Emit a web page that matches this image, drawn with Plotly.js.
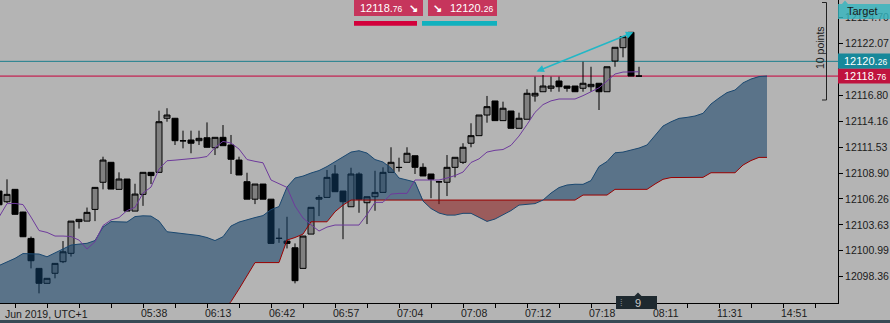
<!DOCTYPE html>
<html><head><meta charset="utf-8">
<script src="https://cdn.plot.ly/plotly-3.0.1.min.js"></script>
<style>html,body{margin:0;padding:0;background:#b4b4b4;overflow:hidden}#chart{width:890px;height:323px}</style>
</head><body><div id="chart"></div>
<script>
// ---- candles (bar index -1 .. 79) ----
const openP = [12107.07,12105.98,12107.24,12104.93,12102.25,12099.20,12097.68,12098.70,12099.88,12100.73,12103.96,12104.01,12105.20,12107.96,12109.99,12107.24,12108.29,12105.03,12106.73,12108.97,12108.97,12114.47,12114.47,12112.19,12112.26,12112.19,12112.49,12111.47,12112.53,12111.75,12110.22,12108.02,12106.24,12107.78,12106.24,12102.27,12101.98,12101.30,12099.20,12102.69,12106.24,12106.42,12108.80,12107.07,12105.47,12108.80,12105.88,12106.49,12106.93,12108.97,12109.48,12109.99,12110.66,12109.48,12108.80,12108.02,12107.96,12109.48,12109.99,12111.93,12112.70,12114.80,12116.23,12114.23,12115.21,12113.45,12114.37,12116.74,12117.17,12117.52,12118.26,12117.75,12117.75,12117.52,12117.68,12118.03,12117.17,12120.29,12121.65,12123.21,12118.76];
const highP = [12107.20,12108.26,12107.27,12104.96,12102.44,12099.23,12098.22,12099.74,12101.98,12104.01,12104.22,12105.39,12107.47,12110.56,12110.02,12108.97,12108.29,12107.81,12109.00,12109.00,12115.24,12115.49,12114.50,12113.21,12113.21,12113.21,12114.05,12112.53,12113.78,12112.77,12110.56,12108.93,12107.78,12107.78,12106.25,12103.27,12104.45,12101.74,12102.49,12105.41,12106.66,12109.21,12109.71,12107.07,12109.44,12108.97,12106.49,12109.13,12109.48,12111.52,12110.46,12111.52,12110.66,12109.89,12108.80,12108.04,12110.73,12110.50,12111.93,12113.96,12114.80,12116.74,12116.23,12116.16,12115.21,12115.04,12117.42,12118.70,12118.87,12118.70,12118.70,12117.75,12117.75,12120.22,12119.71,12118.03,12119.71,12121.69,12122.77,12123.21,12119.71];
const lowP = [12105.67,12105.85,12104.68,12102.39,12099.20,12096.66,12097.66,12098.19,12099.74,12100.40,12103.25,12104.00,12104.01,12107.24,12107.27,12107.24,12105.03,12105.03,12105.56,12107.78,12108.95,12114.12,12111.75,12111.41,12110.91,12111.75,12111.50,12110.73,12111.68,12108.80,12108.70,12106.24,12105.74,12106.24,12101.74,12101.80,12101.23,12097.68,12099.20,12102.69,12104.52,12106.42,12107.00,12102.17,12105.47,12104.86,12103.71,12105.06,12106.93,12108.97,12109.04,12109.99,12108.80,12108.60,12106.34,12105.74,12106.56,12108.46,12109.82,12111.52,12112.70,12114.02,12114.23,12114.23,12113.45,12113.45,12114.37,12116.16,12117.17,12117.17,12117.17,12117.17,12117.17,12117.17,12117.17,12115.31,12117.17,12119.71,12120.67,12118.76,12118.76];
const closeP = [12105.67,12106.73,12104.70,12102.42,12099.98,12097.68,12098.19,12099.71,12100.89,12104.01,12104.19,12104.90,12107.44,12110.22,12107.27,12108.29,12105.03,12106.76,12108.97,12108.64,12114.12,12114.80,12112.19,12112.17,12111.93,12112.43,12111.52,12112.53,12111.68,12110.30,12108.70,12106.24,12107.78,12106.24,12101.74,12102.25,12101.74,12097.95,12102.49,12105.41,12106.42,12108.46,12107.00,12105.98,12108.80,12106.24,12106.49,12106.93,12108.97,12109.99,12109.46,12110.91,12109.48,12108.60,12108.26,12108.00,12109.48,12110.50,12111.52,12112.70,12114.80,12115.65,12114.23,12115.49,12113.45,12114.47,12117.01,12117.01,12117.75,12117.75,12117.68,12117.52,12117.17,12118.03,12117.92,12117.17,12119.71,12121.69,12122.77,12118.76,12118.76];
// ---- Ichimoku: Kijun (bar -1 .. 79), Senkou A/B (bar -1 .. 95) ----
const kijun = [12104.42,12105.79,12105.81,12105.69,12104.42,12103.05,12102.86,12102.49,12102.49,12102.44,12102.08,12101.17,12101.91,12103.56,12104.12,12104.37,12105.08,12105.41,12106.86,12107.47,12109.30,12110.15,12110.21,12110.28,12110.35,12110.44,12110.58,12111.49,12112.12,12111.95,12111.34,12110.27,12110.09,12109.94,12108.19,12107.78,12107.44,12105.54,12104.32,12103.64,12103.00,12103.40,12103.61,12103.61,12103.61,12103.61,12104.68,12105.92,12105.92,12106.76,12106.83,12106.83,12108.19,12108.19,12108.19,12108.19,12108.39,12108.64,12109.00,12109.97,12110.34,12111.03,12111.21,12111.29,12111.72,12112.66,12113.83,12115.07,12115.86,12116.24,12116.43,12116.43,12116.43,12116.77,12117.14,12117.57,12118.26,12118.97,12119.17,12119.20,12119.20];
const spanA = [12099.49,12099.84,12100.22,12100.71,12100.66,12100.66,12100.38,12100.79,12101.24,12101.57,12101.67,12101.75,12102.03,12103.40,12103.96,12103.91,12103.91,12104.47,12104.55,12104.52,12104.01,12102.93,12102.82,12102.74,12102.66,12102.54,12102.34,12102.03,12102.42,12103.51,12103.91,12104.17,12104.37,12104.57,12105.18,12105.49,12107.47,12108.39,12108.59,12108.90,12109.15,12109.56,12110.05,12110.47,12111.03,12111.17,12110.93,12110.27,12110.02,12109.41,12108.39,12108.19,12107.98,12106.05,12105.29,12104.83,12104.62,12104.62,12104.80,12104.80,12104.35,12103.98,12104.22,12104.62,12105.08,12105.64,12105.71,12105.79,12106.15,12106.86,12107.42,12107.68,12107.76,12107.75,12108.13,12109.56,12110.07,12110.96,12111.03,12111.21,12111.44,12111.75,12112.71,12113.68,12114.11,12114.46,12114.56,12114.70,12114.97,12115.92,12116.53,12117.08,12117.34,12118.07,12118.46,12118.71,12118.77];
const spanB = [12093.5,12093.5,12093.5,12093.5,12093.5,12093.5,12093.5,12093.5,12093.5,12093.5,12093.5,12093.5,12093.5,12093.5,12093.5,12093.5,12093.5,12093.5,12093.5,12093.5,12093.5,12093.5,12093.5,12093.5,12093.5,12093.5,12093.5,12094.00,12094.86,12095.82,12097.10,12098.42,12099.79,12099.79,12099.79,12099.79,12102.08,12102.34,12102.69,12103.94,12103.94,12103.94,12104.96,12105.64,12106.15,12106.15,12106.15,12106.15,12106.15,12106.15,12106.15,12106.15,12106.15,12106.15,12106.15,12106.15,12106.15,12106.15,12106.15,12106.15,12106.15,12106.15,12106.15,12106.15,12106.15,12106.15,12106.15,12106.15,12106.15,12106.15,12106.15,12106.15,12106.15,12106.66,12106.66,12106.66,12106.66,12107.24,12107.24,12107.24,12107.24,12107.24,12107.78,12108.26,12108.44,12108.46,12108.46,12108.46,12108.46,12108.93,12108.93,12108.93,12108.93,12109.71,12110.17,12110.49,12110.49];
// ---- axis labels ----
const yTicks = [12124.70,12122.07,12116.80,12114.16,12111.53,12108.90,12106.26,12103.63,12100.99,12098.36];
const timeLabels = ['','','05:38','06:13','06:42','06:57','07:04','07:08','07:12','07:18','08:11','11:31','14:51'];
const bidPrice = 12118.76, askPrice = 12120.26;

const FIRST = -1;
const xs = openP.map((_, i) => i + FIRST);
const xc = spanA.map((_, i) => i + FIRST);
const upper = spanA.map((a, i) => Math.max(a, spanB[i]));

const YMIN = 12095.68, YMAX = 12126.50;
const PW = 838, PH = 303;
const X = px => px / PW;            // pixel -> paper
const Y = py => (PH - py) / PH;
const YV = v => (v - YMIN) / (YMAX - YMIN);
const FONT = 'Liberation Sans, Arial, sans-serif';

const traces = [
  {type:'candlestick', x:xs, open:openP, high:highP, low:lowP, close:closeP,
   increasing:{line:{color:'#000', width:1}, fillcolor:'#808080'},
   decreasing:{line:{color:'#000', width:1}, fillcolor:'#000'},
   whiskerwidth:0, hoverinfo:'skip', showlegend:false},
  {type:'scatter', mode:'lines', x:xc, y:spanB, line:{width:0}, hoverinfo:'skip', showlegend:false},
  {type:'scatter', mode:'lines', x:xc, y:upper, line:{width:0}, fill:'tonexty', fillcolor:'rgba(16,62,102,0.55)', hoverinfo:'skip', showlegend:false},
  {type:'scatter', mode:'lines', x:xc, y:spanA, line:{width:0}, hoverinfo:'skip', showlegend:false},
  {type:'scatter', mode:'lines', x:xc, y:upper, line:{width:0}, fill:'tonexty', fillcolor:'rgba(134,20,20,0.55)', hoverinfo:'skip', showlegend:false},
  {type:'scatter', mode:'lines', x:xc, y:spanB, line:{color:'#9a0000', width:1}, hoverinfo:'skip', showlegend:false},
  {type:'scatter', mode:'lines', x:xc, y:spanA, line:{color:'#1a4870', width:1}, hoverinfo:'skip', showlegend:false},
  {type:'scatter', mode:'lines', x:xs, y:kijun, line:{color:'#6e3a9c', width:1}, hoverinfo:'skip', showlegend:false}
];

const tickVals = [], tickText = [];
timeLabels.forEach((t, j) => {
  tickVals.push(1.0 + 8*j); tickText.push(t);
  tickVals.push(5.0 + 8*j); tickText.push('');
});

const shapes = [
  {type:'line', xref:'paper', yref:'y', x0:0, x1:1, y0:askPrice, y1:askPrice, line:{color:'#1d7f8d', width:1}, layer:'below'},
  {type:'line', xref:'paper', yref:'y', x0:0, x1:1, y0:bidPrice, y1:bidPrice, line:{color:'#c8003c', width:1}, layer:'below'},
  // right price labels
  {type:'rect', xref:'paper', yref:'paper', x0:1, x1:X(890), y0:YV((askPrice+bidPrice)/2), y1:YV(askPrice+0.80), fillcolor:'#17889a', line:{width:0}},
  {type:'rect', xref:'paper', yref:'paper', x0:1, x1:X(890), y0:YV(bidPrice-0.75), y1:YV((askPrice+bidPrice)/2), fillcolor:'#c0133e', line:{width:0}},
  // target tag
  {type:'path', xref:'paper', yref:'paper', path:`M ${X(838)} ${Y(19)} L ${X(838)} ${Y(4)} L ${X(842)} ${Y(4)} L ${X(845)} ${Y(0.5)} L ${X(848)} ${Y(4)} L ${X(890)} ${Y(4)} L ${X(890)} ${Y(19)} Z`, fillcolor:'rgba(52,180,190,0.82)', line:{width:0}},
  // 10 points bracket
  {type:'path', xref:'paper', yref:'paper', path:`M ${X(822)} ${Y(2.5)} L ${X(826.5)} ${Y(2.5)} L ${X(826.5)} ${Y(100)} L ${X(822)} ${Y(100)}`, line:{color:'#222', width:1}},
  // top boxes
  {type:'rect', xref:'paper', yref:'paper', x0:X(354), x1:X(423), y0:Y(16), y1:Y(0), fillcolor:'#c6355c', line:{width:0}},
  {type:'rect', xref:'paper', yref:'paper', x0:X(428), x1:X(497), y0:Y(16), y1:Y(0), fillcolor:'#c6355c', line:{width:0}},
  {type:'rect', xref:'paper', yref:'paper', x0:X(354), x1:X(417), y0:Y(25.7), y1:Y(21), fillcolor:'#d3003b', line:{width:0}},
  {type:'rect', xref:'paper', yref:'paper', x0:X(422), x1:X(497), y0:Y(25.7), y1:Y(21), fillcolor:'#11b1be', line:{width:0}},
  // bottom strip
  {type:'rect', xref:'paper', yref:'paper', x0:0, x1:X(890), y0:Y(323), y1:Y(320), fillcolor:'#384a55', line:{width:0}},
  // bar-count box
  {type:'rect', xref:'paper', yref:'paper', x0:X(616), x1:X(657), y0:Y(309), y1:Y(296), fillcolor:'#1e292f', line:{width:0}},
  {type:'path', xref:'paper', yref:'paper', path:`M ${X(634.5)} ${Y(296)} L ${X(638)} ${Y(292.5)} L ${X(641.5)} ${Y(296)} Z`, fillcolor:'#1e292f', line:{width:0}}
];

const wh = {color:'#ffffff', family:FONT, size:11};
const annotations = [
  {xref:'paper', yref:'paper', x:X(3), y:Y(314), xanchor:'left', yanchor:'middle', text:'Jun 2019, UTC+1', showarrow:false, font:{color:'#1b1b1b', family:FONT, size:10.5}},
  {xref:'paper', yref:'paper', x:X(842), y:YV(askPrice), xanchor:'left', yanchor:'middle', showarrow:false,
   text:askPrice.toFixed(2).slice(0,6) + '<span style="font-size:8.5px">' + askPrice.toFixed(2).slice(6) + '</span>', font:wh},
  {xref:'paper', yref:'paper', x:X(842), y:YV(bidPrice), xanchor:'left', yanchor:'middle', showarrow:false,
   text:bidPrice.toFixed(2).slice(0,6) + '<span style="font-size:8.5px">' + bidPrice.toFixed(2).slice(6) + '</span>', font:wh},
  {xref:'paper', yref:'paper', x:X(845), y:Y(11.5), xanchor:'left', yanchor:'middle', showarrow:false, text:'Target', font:{color:'#1b1b1b', family:FONT, size:11}},
  {xref:'paper', yref:'paper', x:X(820), y:Y(48), xanchor:'center', yanchor:'middle', showarrow:false, textangle:-90, text:'10 points', font:{color:'#1b1b1b', family:FONT, size:10.5}},
  {xref:'paper', yref:'paper', x:X(358), y:Y(8), xanchor:'left', yanchor:'middle', showarrow:false,
   text:bidPrice.toFixed(2).slice(0,6) + '<span style="font-size:8.5px">' + bidPrice.toFixed(2).slice(6) + '</span>', font:wh},
  {xref:'paper', yref:'paper', x:X(413), y:Y(8), xanchor:'center', yanchor:'middle', showarrow:false, text:'<b>↘</b>', font:wh},
  {xref:'paper', yref:'paper', x:X(437), y:Y(8), xanchor:'center', yanchor:'middle', showarrow:false, text:'<b>↘</b>', font:wh},
  {xref:'paper', yref:'paper', x:X(448), y:Y(8), xanchor:'left', yanchor:'middle', showarrow:false,
   text:askPrice.toFixed(2).slice(0,6) + '<span style="font-size:8.5px">' + askPrice.toFixed(2).slice(6) + '</span>', font:wh},
  {xref:'paper', yref:'paper', x:X(638), y:Y(302.5), xanchor:'center', yanchor:'middle', showarrow:false, text:'9', font:{color:'#c9c9c9', family:FONT, size:11}},
  {xref:'paper', yref:'paper', x:X(621), y:Y(302.5), xanchor:'center', yanchor:'middle', showarrow:false, text:'⁞', font:{color:'#8a9298', family:FONT, size:9}},
  {x:78.3, y:highP[78 - FIRST], xref:'x', yref:'y', ax:66, ay:highP[67 - FIRST] + 0.3, axref:'x', ayref:'y', text:'', showarrow:true,
   arrowhead:2, startarrowhead:2, arrowside:'end+start', arrowsize:1, startarrowsize:1, arrowwidth:1.5, arrowcolor:'#22b7c6'}
];

const layout = {
  width:890, height:323, autosize:false,
  margin:{l:0, r:52, t:0, b:20, pad:0},
  paper_bgcolor:'#b4b4b4', plot_bgcolor:'#b4b4b4',
  showlegend:false, hovermode:false, dragmode:false,
  boxgap:0.25, boxgroupgap:0,
  font:{family:FONT, color:'#1b1b1b', size:10.5},
  xaxis:{range:[-0.875, 103.875], rangeslider:{visible:false}, showgrid:false, zeroline:false,
    showline:true, linecolor:'#000', linewidth:1, ticks:'outside', ticklen:4, tickcolor:'#000',
    tickmode:'array', tickvals:tickVals, ticktext:tickText, ticklabelposition:'outside right', ticklabelshift:-3,
    tickfont:{family:FONT, size:10.5, color:'#1b1b1b'}, fixedrange:true},
  yaxis:{range:[YMIN, YMAX], side:'right', showgrid:false, zeroline:false,
    showline:true, linecolor:'#000', linewidth:1, ticks:'outside', ticklen:4, tickcolor:'#000',
    tickmode:'array', tickvals:yTicks, ticktext:yTicks.map(v => v.toFixed(2)),
    tickfont:{family:FONT, size:10.5, color:'#1b1b1b'}, fixedrange:true},
  shapes, annotations
};

Plotly.newPlot('chart', traces, layout, {displayModeBar:false, staticPlot:true});
</script></body></html>
